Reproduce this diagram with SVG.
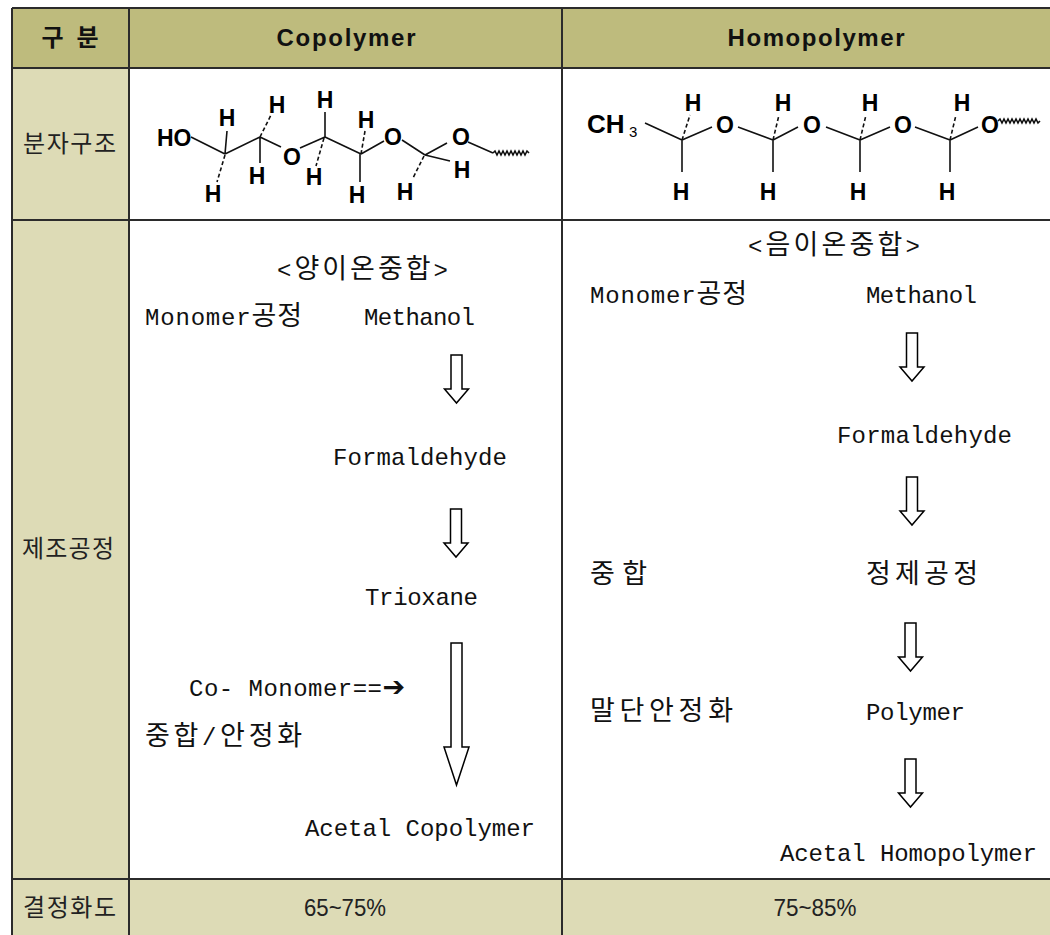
<svg xmlns="http://www.w3.org/2000/svg" width="1050" height="935" viewBox="0 0 1050 935">
<style>
.grid{stroke:#2b2b2b;stroke-width:2;fill:none}
.mono{font-family:"Liberation Mono","Noto Sans CJK KR",monospace;font-size:24px;fill:#111}
.k{font-family:"Noto Sans CJK KR",sans-serif;font-size:27px}
.lbl{font-family:"Noto Sans CJK KR",sans-serif;font-size:24px;fill:#222}
.hdr{font-family:"Liberation Sans","Noto Sans CJK KR",sans-serif;font-size:24px;font-weight:bold;fill:#111}
.atom{font-family:"Liberation Sans",Arial,sans-serif;font-size:23px;font-weight:bold;fill:#000}
.sub{font-family:"Liberation Sans",Arial,sans-serif;font-size:15px;fill:#000}
.pct{font-family:"Liberation Sans",Arial,sans-serif;font-size:24px;fill:#222}
.bond{stroke:#111;stroke-width:1.6;fill:none}
.hash{stroke:#111;stroke-width:1.6;fill:none;stroke-dasharray:4 2.5}
.arw{fill:#fff;stroke:#000;stroke-width:1.5;stroke-linejoin:miter}
</style>
<defs>
<path id="darrow" d="M-5.5,0 H5.5 V34 H12 L0,48 L-12,34 H-5.5 Z"/>
</defs>
<rect x="0" y="0" width="1050" height="935" fill="#fff"/>

<g id="table">
<rect x="12" y="8" width="1058" height="60" fill="#BEBB7D"/>
<rect x="12" y="68" width="117" height="872" fill="#DDDBB6"/>
<rect x="129" y="879" width="941" height="61" fill="#DDDBB6"/>
<rect x="129" y="68" width="941" height="811" fill="#fff"/>
<path class="grid" d="M12,8 H1070 M12,68 H1070 M12,220 H1070 M12,879 H1070 M12,8 V940 M129,8 V940 M562,8 V940"/>
</g>

<g id="header-gubun"><text class="hdr" x="70" y="46" text-anchor="middle" textLength="57">구 분</text></g>
<g id="header-copolymer"><text class="hdr" x="346" y="46" text-anchor="middle" textLength="139">Copolymer</text></g>
<g id="header-homopolymer"><text class="hdr" x="816" y="46" text-anchor="middle" textLength="177">Homopolymer</text></g>

<g id="label-structure"><text class="lbl" x="23" y="152" textLength="93">분자구조</text></g>
<g id="label-process"><text class="lbl" x="22" y="557" textLength="92">제조공정</text></g>
<g id="label-crystal"><text class="lbl" x="23" y="916" textLength="93">결정화도</text></g>

<g id="copolymer-structure">
<path class="bond" d="M191,137 L225,154 M225,154 L227,131 M225,154 L260,137 M260,137 L260,163 M260,137 L281,147 M300,148 L325,137 M325,137 L325,112 M325,137 L361,154 M360,154 L360,182 M361,154 L384,141 M402,140 L425,155 M425,155 L450,161 M425,155 L447,143 M468,142 L493,153"/>
<path class="hash" d="M225,155 L217,182 M260,137 L271,115 M324,138 L316,166 M361,154 L365,131 M424,156 L413,178"/>
<polyline class="bond" stroke-width="1.2" points="493,153 495,151 497,155 499,151 501,155 503,151 505,155 507,151 509,155 511,151 513,155 515,151 517,155 519,151 521,155 523,151 525,155 527,151 529,153"/>
<text class="atom" x="157" y="146">HO</text>
<text class="atom" text-anchor="middle" x="227" y="126">H</text>
<text class="atom" text-anchor="middle" x="213" y="202">H</text>
<text class="atom" text-anchor="middle" x="277" y="113">H</text>
<text class="atom" text-anchor="middle" x="257" y="184">H</text>
<text class="atom" text-anchor="middle" x="292" y="165">O</text>
<text class="atom" text-anchor="middle" x="325" y="108">H</text>
<text class="atom" text-anchor="middle" x="314" y="185">H</text>
<text class="atom" text-anchor="middle" x="366" y="128">H</text>
<text class="atom" text-anchor="middle" x="357" y="203">H</text>
<text class="atom" text-anchor="middle" x="393" y="145">O</text>
<text class="atom" text-anchor="middle" x="462" y="178">H</text>
<text class="atom" text-anchor="middle" x="405" y="200">H</text>
<text class="atom" text-anchor="middle" x="461" y="145">O</text>
</g>

<g id="homopolymer-structure">
<path class="bond" d="M645,123 L682,140 M682,140 L682,172 M682,140 L712,127 M738,127 L773,140 M773,140 L773,172 M773,140 L798,127 M826,127 L860,140 M860,140 L860,172 M860,140 L890,127 M915,127 L950,140 M950,140 L950,172 M950,140 L978,127"/>
<path class="hash" d="M682,140 L690,115 M773,140 L779,115 M860,140 L866,115 M950,140 L956,115"/>
<polyline class="bond" stroke-width="1.1" points="998,121 1000,119 1002,123 1004,119 1006,123 1008,119 1010,123 1012,119 1014,123 1016,119 1018,123 1020,119 1022,123 1024,119 1026,123 1028,119 1030,123 1032,119 1034,123 1036,119 1038,123 1040,121"/>
<text class="atom" x="587" y="133" style="font-size:26px">CH</text>
<text class="sub" x="629" y="137">3</text>
<text class="atom" text-anchor="middle" x="693" y="111">H</text>
<text class="atom" text-anchor="middle" x="681" y="200">H</text>
<text class="atom" text-anchor="middle" x="725" y="133">O</text>
<text class="atom" text-anchor="middle" x="783" y="111">H</text>
<text class="atom" text-anchor="middle" x="768" y="200">H</text>
<text class="atom" text-anchor="middle" x="812" y="133">O</text>
<text class="atom" text-anchor="middle" x="870" y="111">H</text>
<text class="atom" text-anchor="middle" x="858" y="200">H</text>
<text class="atom" text-anchor="middle" x="903" y="133">O</text>
<text class="atom" text-anchor="middle" x="962" y="111">H</text>
<text class="atom" text-anchor="middle" x="947" y="200">H</text>
<text class="atom" text-anchor="middle" x="990" y="133">O</text>
</g>

<g id="copolymer-process">
<text class="mono" x="277" y="278" textLength="171">&lt;<tspan class="k">양이온중합</tspan>&gt;</text>
<text class="mono" x="145" y="325" textLength="157">Monomer<tspan class="k">공정</tspan></text>
<text class="mono" x="364" y="325" textLength="111">Methanol</text>
<text class="mono" x="333" y="465" textLength="174">Formaldehyde</text>
<text class="mono" x="365" y="605" textLength="113">Trioxane</text>
<text class="mono" x="189" y="696" textLength="216">Co- Monomer==<tspan font-family="DejaVu Sans" font-weight="bold" style="font-size:27px">➔</tspan></text>
<text class="mono" x="145" y="745" textLength="157"><tspan class="k">중합</tspan>/<tspan class="k">안정화</tspan></text>
<text class="mono" x="305" y="836" textLength="230">Acetal Copolymer</text>
</g>

<g id="homopolymer-process">
<text class="mono" x="748" y="254" textLength="172">&lt;<tspan class="k">음이온중합</tspan>&gt;</text>
<text class="mono" x="590" y="303" textLength="157">Monomer<tspan class="k">공정</tspan></text>
<text class="mono" x="866" y="303" textLength="111">Methanol</text>
<text class="mono" x="837" y="443" textLength="175">Formaldehyde</text>
<text class="mono k" x="590" y="583" textLength="57">중합</text>
<text class="mono k" x="866" y="583" textLength="112">정제공정</text>
<text class="mono k" x="590" y="720" textLength="143">말단안정화</text>
<text class="mono" x="866" y="720" textLength="99">Polymer</text>
<text class="mono" x="780" y="861" textLength="257">Acetal Homopolymer</text>
</g>

<g id="crystal-copolymer"><text class="pct" x="345" y="916" text-anchor="middle" textLength="82" lengthAdjust="spacingAndGlyphs">65~75%</text></g>
<g id="crystal-homopolymer"><text class="pct" x="815" y="916" text-anchor="middle" textLength="83" lengthAdjust="spacingAndGlyphs">75~85%</text></g>

<g id="connectors">
<use href="#darrow" class="arw" x="456.5" y="355"/>
<use href="#darrow" class="arw" x="456" y="509"/>
<path class="arw" d="M451,643 H462 V747 H469 L456.5,785 L444,747 H451 Z"/>
<use href="#darrow" class="arw" x="912" y="333"/>
<use href="#darrow" class="arw" x="912" y="477"/>
<use href="#darrow" class="arw" x="910.5" y="623"/>
<use href="#darrow" class="arw" x="910.5" y="759"/>
</g>
</svg>
